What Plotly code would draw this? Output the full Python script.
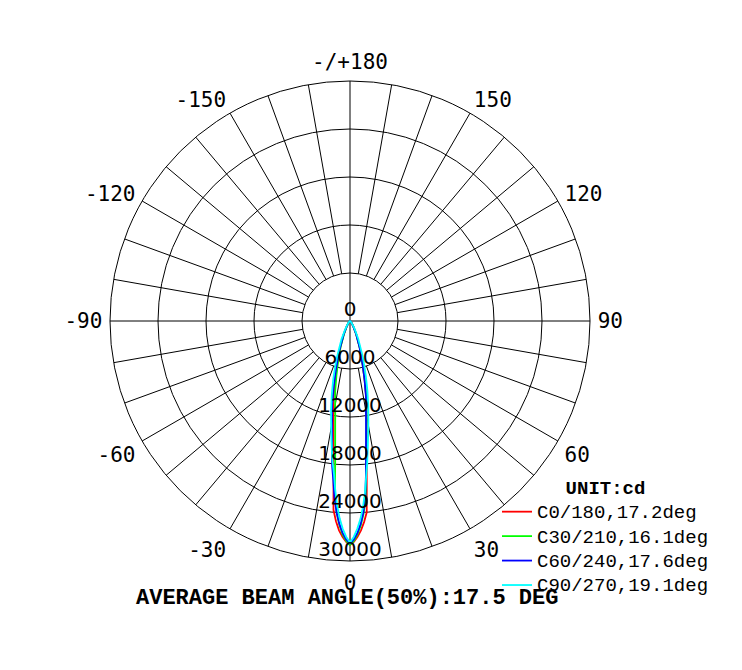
import plotly.graph_objects as go

# ---------------- data ----------------
angles = [0, 1, 2, 3, 4, 5, 6, 7, 8, 9, 10, 11, 12, 14, 16, 18, 20, 25, 30, 35, 40, 50, 60, 70, 80, 90]

c0_right = [28000, 27600, 27000, 26200, 25200, 24000, 20000, 17100, 15000, 13400, 12000, 10800, 9700,
            7500, 5800, 4600, 3600, 1900, 950, 500, 260, 100, 40, 15, 5, 0]
c0_left = [28000, 27600, 27000, 26200, 25100, 23700, 19700, 16900, 14800, 13200, 11900, 10800, 9900,
           7700, 6000, 4700, 3700, 1900, 950, 480, 250, 90, 35, 12, 4, 0]

c30_right = [28000, 27500, 26700, 25600, 24200, 22400, 19300, 16800, 14800, 13200, 11900, 10800, 9900,
             7600, 5800, 4500, 3500, 1800, 900, 450, 230, 80, 30, 10, 3, 0]
c30_left = [28000, 27500, 26700, 25500, 24000, 21800, 17700, 15200, 13300, 11800, 10700, 9700, 8900,
            7000, 5500, 4300, 3400, 1700, 850, 420, 220, 80, 30, 10, 3, 0]

c60_right = [27800, 27300, 26500, 25400, 24000, 22000, 19100, 16400, 14400, 12800, 11500, 10500, 9600,
             7500, 5800, 4500, 3500, 1800, 880, 440, 220, 80, 30, 10, 3, 0]
c60_left = [27800, 27300, 26500, 25400, 24000, 22200, 20000, 18300, 16200, 14400, 13000, 11800, 10800,
            8400, 6400, 4900, 3800, 1900, 900, 450, 230, 80, 30, 10, 3, 0]

c90_right = [27700, 27000, 26000, 24800, 23300, 21500, 19400, 17700, 16000, 14500, 13200, 12000, 11000,
             9000, 7200, 5700, 4500, 2400, 1150, 580, 290, 100, 40, 15, 5, 0]
c90_left = [27700, 27000, 26000, 24700, 23100, 21200, 19200, 17800, 16300, 14900, 13600, 12400, 11400,
            9400, 7600, 6000, 4700, 2500, 1200, 600, 300, 100, 40, 15, 5, 0]

series_names = ["C0/180,17.2deg", "C30/210,16.1deg", "C60/240,17.6deg", "C90/270,19.1deg"]
series_colors = ["#FF0000", "#00FF00", "#0000FF", "#00FFFF"]
series_right = [c0_right, c30_right, c60_right, c90_right]
series_left = [c0_left, c30_left, c60_left, c90_left]

radial_ticks = [0, 6000, 12000, 18000, 24000, 30000]
angular_tickvals = [0, 30, 60, 90, 120, 150, 180, 210, 240, 270, 300, 330]
angular_ticktext = ["0", "30", "60", "90", "120", "150", "-/+180", "-150", "-120", "-90", "-60", "-30"]

R_MAX = 30000
R_INNER = 6000

# ---------------- figure ----------------
fig = go.Figure()

# spokes (grid) every 10 degrees
sp_r, sp_t = [], []
for a in range(0, 360, 10):
    start = 0 if a % 90 == 0 else R_INNER
    sp_r += [start, R_MAX, None]
    sp_t += [a, a, None]
fig.add_trace(go.Scatterpolar(r=sp_r, theta=sp_t, mode="lines",
                              line=dict(color="black", width=1),
                              hoverinfo="skip", showlegend=False, connectgaps=False))

# curves
for name, color, right, left in zip(series_names, series_colors, series_right, series_left):
    theta = [-a for a in angles[::-1]] + angles[1:]
    r = left[::-1] + right[1:]
    fig.add_trace(go.Scatterpolar(r=r, theta=theta, mode="lines",
                                  name='<span style="font-size:19px">' + name + "</span>",
                                  line=dict(color=color, width=1.8)))

# radial labels
fig.add_trace(go.Scatterpolar(r=radial_ticks, theta=[0] * len(radial_ticks), mode="text",
                              text=[str(v) for v in radial_ticks], textposition="top center",
                              textfont=dict(family="DejaVu Sans", size=20, color="black"),
                              hoverinfo="skip", showlegend=False))

W, H = 742, 670
OFF = 8  # page body margin
cx, cy, rad = 350 - OFF, 321 - OFF, 240
fig.update_layout(
    width=W, height=H,
    margin=dict(l=0, r=0, t=0, b=0),
    paper_bgcolor="white",
    showlegend=True,
    polar=dict(
        domain=dict(x=[(cx - rad) / W, (cx + rad) / W],
                    y=[(H - cy - rad) / H, (H - cy + rad) / H]),
        bgcolor="white",
        radialaxis=dict(range=[0, R_MAX], tickvals=radial_ticks[1:], showticklabels=False,
                        ticks="", showline=False, showgrid=True, gridcolor="black", gridwidth=1),
        angularaxis=dict(rotation=-90, direction="counterclockwise",
                         tickvals=angular_tickvals, ticktext=angular_ticktext,
                         tickfont=dict(family="DejaVu Sans Mono", size=21, color="black"),
                         ticks="outside", ticklen=3, tickcolor="rgba(0,0,0,0)",
                         showgrid=False, showline=True, linecolor="black", linewidth=1),
    ),
    legend=dict(x=(497 - OFF) / W, y=1 - (473 - OFF) / H, xanchor="left", yanchor="top",
                bgcolor="rgba(0,0,0,0)",
                font=dict(family="Liberation Mono", size=16.5, color="black"),
                title=dict(text='<b><span style="font-size:19px">UNIT:cd</span></b>', side="top center",
                           font=dict(family="Liberation Mono", size=16.5, color="black")),
                tracegroupgap=0),
    annotations=[dict(text="<b>AVERAGE BEAM ANGLE(50%):17.5 DEG</b>", x=(346.5 - OFF) / W,
                      y=1 - (598 - OFF) / H, xanchor="center", yanchor="middle",
                      xref="paper", yref="paper", showarrow=False,
                      font=dict(family="Liberation Mono", size=22, color="black"))],
)

fig.write_html("out.html")
